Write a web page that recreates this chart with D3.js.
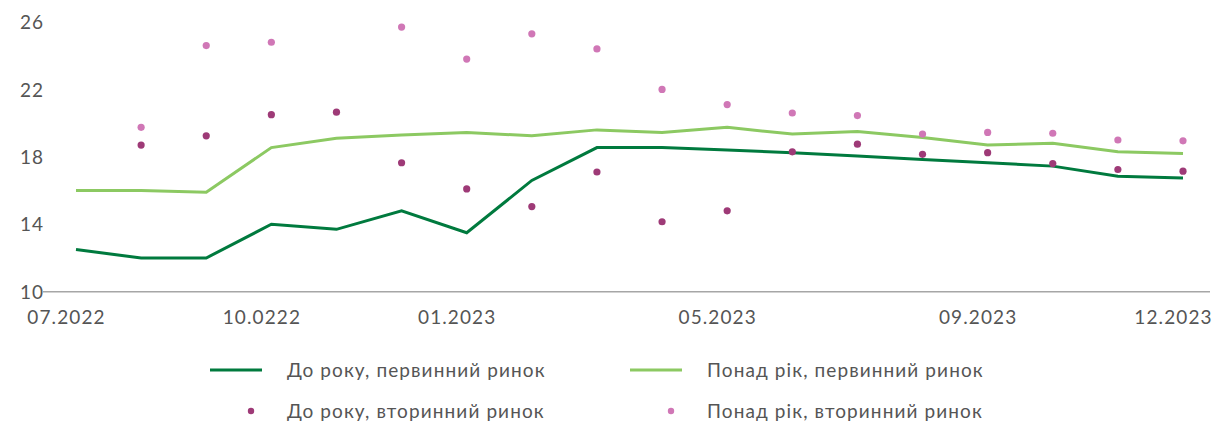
<!DOCTYPE html>
<html>
<head>
<meta charset="utf-8">
<script src="https://cdn.jsdelivr.net/npm/d3@7"></script>
<style>
  body { margin: 0; background: #fff; }
  svg text { font-family: "Lato", "Open Sans", sans-serif; fill: #555; letter-spacing: 1.1px; }
</style>
</head>
<body>
<svg id="chart" width="1218" height="422"></svg>
<script>
// months on the x axis (one point per month)
var months = ["07.2022","08.2022","09.2022","10.2022","11.2022","12.2022",
              "01.2023","02.2023","03.2023","04.2023","05.2023","06.2023",
              "07.2023","08.2023","09.2023","10.2023","11.2023","12.2023"];

// labelled ticks (label text copied as in the source, typo included)
var tickMonths = ["07.2022","10.2022","01.2023","05.2023","09.2023","12.2023"];
var tickLabels = ["07.2022","10.0222","01.2023","05.2023","09.2023","12.2023"];
var yTicks = [10, 14, 18, 22, 26];

// до року, первинний ринок
var shortPrimary = [12.5, 12.0, 12.0, 14.0, 13.7, 14.8, 13.5, 16.6, 18.55, 18.55,
                    18.4, 18.25, 18.05, 17.85, 17.65, 17.45, 16.85, 16.75];
// понад рік, первинний ринок
var longPrimary = [16.0, 16.0, 15.9, 18.55, 19.1, 19.3, 19.45, 19.25, 19.6, 19.45,
                   19.75, 19.35, 19.5, 19.15, 18.7, 18.8, 18.3, 18.2];
// до року, вторинний ринок
var shortSecondary = [null, 18.7, 19.25, 20.5, 20.65, 17.65, 16.1, 15.05, 17.1, 14.15,
                      14.8, 18.3, 18.75, 18.15, 18.25, 17.6, 17.25, 17.15];
// понад рік, вторинний ринок
var longSecondary = [null, 19.75, 24.6, 24.8, null, 25.7, 23.8, 25.3, 24.4, 22.0,
                     21.1, 20.6, 20.45, 19.35, 19.45, 19.4, 19.0, 18.95];

var seriesNames = ["До року, первинний ринок", "Понад рік, первинний ринок",
                   "До року, вторинний ринок", "Понад рік, вторинний ринок"];
var seriesColors = ["#007a3e", "#8cc962", "#9e3a77", "#d077b6"];

window.addEventListener("load", run);

function run() {
    var svg = d3.select("#chart");

    var x = d3.scalePoint().domain(months).range([76, 1183]);
    var y = d3.scaleLinear().domain([10, 26]).range([291.7, 22]);

    // baseline
    svg.append("line")
        .attr("x1", 43)
        .attr("x2", 1210)
        .attr("y1", y(10))
        .attr("y2", y(10))
        .style("stroke", "#a6a6a6")
        .style("stroke-width", 1.5);

    // y axis labels
    var yAxis = svg.append("g")
        .call(d3.axisLeft(y).tickValues(yTicks).tickSize(0).tickFormat(d3.format("d")));
    yAxis.select(".domain").remove();
    yAxis.selectAll("text")
        .attr("x", 20)
        .attr("dy", "0.35em")
        .style("text-anchor", "start")
        .style("font-size", "19px")
        .style("fill", "#555");

    // x axis labels
    var xAxis = svg.append("g")
        .attr("transform", "translate(0," + y(10) + ")")
        .call(d3.axisBottom(x).tickValues(tickMonths).tickSize(0)
              .tickFormat(function(d) { return tickLabels[tickMonths.indexOf(d)]; }));
    xAxis.select(".domain").remove();
    xAxis.selectAll("text")
        .attr("y", 26)
        .attr("dy", "0.35em")
        .attr("dx", -10)
        .style("font-size", "19px")
        .style("fill", "#555");

    var line = d3.line()
        .x(function(d, i) { return x(months[i]); })
        .y(function(d) { return y(d); });

    svg.append("path")
        .datum(longPrimary)
        .attr("d", line)
        .style("fill", "none")
        .style("stroke", seriesColors[1])
        .style("stroke-width", 3);

    svg.append("path")
        .datum(shortPrimary)
        .attr("d", line)
        .style("fill", "none")
        .style("stroke", seriesColors[0])
        .style("stroke-width", 3);

    function dots(values, color) {
        svg.append("g")
            .selectAll("circle")
            .data(values.map(function(v, i) { return {m: months[i], v: v}; })
                        .filter(function(d) { return d.v !== null; }))
            .enter()
            .append("circle")
            .attr("cx", function(d) { return x(d.m); })
            .attr("cy", function(d) { return y(d.v); })
            .attr("r", 3.6)
            .style("fill", color);
    }
    dots(longSecondary, seriesColors[3]);
    dots(shortSecondary, seriesColors[2]);

    // legend
    var legend = svg.append("g");
    seriesNames.forEach(function(name, i) {
        var col = i % 2, row = Math.floor(i / 2);
        var lx = 210 + col * 420, ly = 370 + row * 41;
        var g = legend.append("g").attr("transform", "translate(" + lx + "," + ly + ")");
        if (row === 0) {
            g.append("line")
                .attr("x1", 0).attr("x2", 52)
                .attr("y1", 0).attr("y2", 0)
                .style("stroke", seriesColors[i])
                .style("stroke-width", 3);
        } else {
            g.append("circle")
                .attr("cx", 41).attr("cy", 0)
                .attr("r", 3.2)
                .style("fill", seriesColors[i]);
        }
        g.append("text")
            .attr("x", 77)
            .attr("y", 0)
            .attr("dy", "0.35em")
            .style("font-size", "19px")
            .style("fill", "#555")
            .text(name);
    });
}
</script>
</body>
</html>
